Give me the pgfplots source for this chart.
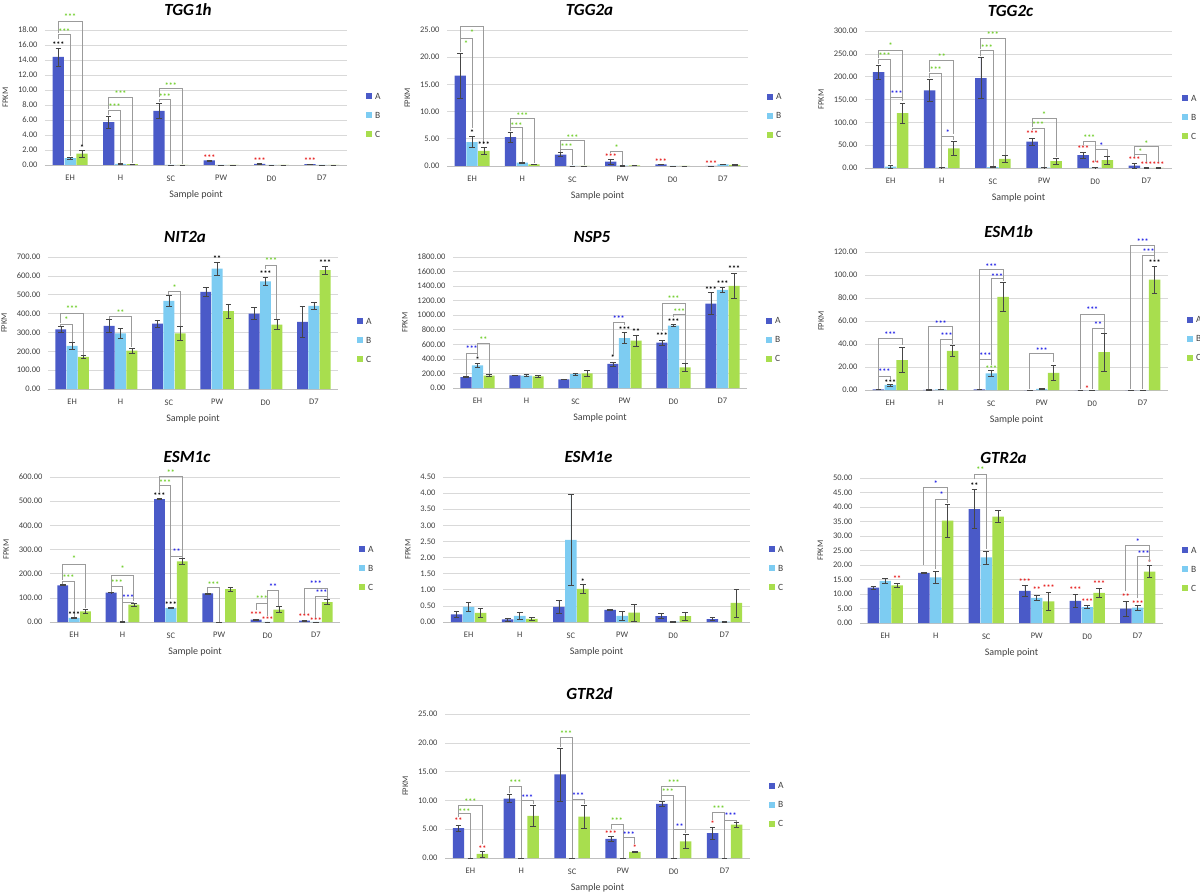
\documentclass[border=0pt]{standalone}
\usepackage{pgfplots}
\pgfplotsset{compat=1.18}
\usepackage{pgfplotstable}
\usepackage{fontspec}
\setmainfont{Carlito}
\usetikzlibrary{calc}

\definecolor{cA}{RGB}{74,90,200}
\definecolor{cB}{RGB}{125,204,242}
\definecolor{cC}{RGB}{168,222,78}
\definecolor{grn}{RGB}{110,205,40}
\definecolor{blu}{RGB}{30,30,230}
\definecolor{sred}{RGB}{230,25,25}
\definecolor{brkc}{RGB}{155,155,155}
\definecolor{gridc}{RGB}{217,217,217}
\definecolor{axl}{RGB}{191,191,191}
\definecolor{txt}{RGB}{64,64,64}
\definecolor{errc}{RGB}{70,70,70}

\tikzset{
  stn/.style={font=\fontsize{8}{8}\selectfont\bfseries, inner sep=0pt, anchor=base, yshift=-4pt},
  brkst/.style={draw=brkc, line width=0.8pt},
}
\newcommand{\st}[4]{\node[stn,text=#4] at (axis cs:#1,#2) {#3};}
\newcommand{\br}[8]{\draw[brkst] (axis cs:#1,#3) |- (axis cs:#2,#4) -- (axis cs:#2,#5);
  \node[stn,text=#8] at ($(axis cs:#1,#6)!0.5!(axis cs:#2,#6)$) {#7};}

\pgfplotsset{
  barax/.style={
    scale only axis, clip=false, anchor=south west,
    xmin=-0.5, xmax=5.5, ymin=0,
    xtick={0,1,2,3,4,5}, xticklabels={EH,H,SC,PW,D0,D7},
    axis x line*=bottom, axis y line*=left,
    y axis line style={draw=none},
    x axis line style={draw=axl, line width=0.8pt},
    major tick length=0pt,
    ymajorgrids, grid style={draw=gridc, line width=0.6pt},
    tick label style={font=\fontsize{8.5}{10}\selectfont, text=txt},
    scaled y ticks=false,
    yticklabel style={xshift=-4pt, /pgf/number format/fixed, /pgf/number format/fixed zerofill, /pgf/number format/precision=2, /pgf/number format/1000 sep={}, /pgf/number format/assume math mode=true},
    xticklabel style={yshift=-7pt},
    ylabel={FPKM}, ylabel style={font=\fontsize{8.5}{10}\selectfont, text=txt}, ylabel shift=3pt,
    xlabel={Sample point}, xlabel style={font=\fontsize{10}{12}\selectfont, text=txt}, xlabel shift=3pt,
    title style={font=\fontsize{17}{20}\selectfont\bfseries\itshape, at={(axis description cs:0.5,1)}, anchor=center, xshift=-8pt, yshift=14pt},
    legend style={at={(axis description cs:1,0.37)}, anchor=west, xshift=19pt, draw=none, fill=none, inner sep=0pt, font=\fontsize{9.5}{11}\selectfont, text=txt, row sep=13pt, nodes={inner sep=0pt, text height=6pt, text depth=0pt}},
    legend cell align=left,
  },
  ebar/.style={error bars/.cd, y dir=both, y explicit,
    error bar style={line width=0.6pt, draw=errc},
    error mark options={rotate=90, mark size=2.8pt, line width=0.6pt, draw=errc}},
}

\newcommand{\bars}[1]{%
  \addplot[ybar, bar width=0.225, bar shift=0pt, fill=cA, draw=none,
    legend image code/.code={\fill[cA] (0pt,-3pt) rectangle (6pt,3pt); \path (9pt,0pt);}, ebar]
    table[x expr=\thisrow{x}-0.235, y=A, y error=Ae] {#1};
  \addplot[ybar, bar width=0.225, bar shift=0pt, fill=cB, draw=none,
    legend image code/.code={\fill[cB] (0pt,-3pt) rectangle (6pt,3pt); \path (9pt,0pt);}, ebar]
    table[x=x, y=B, y error=Be] {#1};
  \addplot[ybar, bar width=0.225, bar shift=0pt, fill=cC, draw=none,
    legend image code/.code={\fill[cC] (0pt,-3pt) rectangle (6pt,3pt); \path (9pt,0pt);}, ebar]
    table[x expr=\thisrow{x}+0.235, y=C, y error=Ce] {#1};
  \legend{A,B,C}
}

\pgfplotstableread{
x A Ae B Be C Ce
0 14.4 1.2 0.9 0.15 1.5 0.5
1 5.7 0.8 0.15 0.05 0.1 0.05
2 7.2 1.0 0 0 0 0
3 0.6 0.05 0 0 0 0
4 0.15 0.05 0 0 0 0
5 0.1 0.03 0 0 0 0
}\tTa
\pgfplotstableread{
x A Ae B Be C Ce
0 16.6 4.1 4.4 1.0 2.8 0.6
1 5.3 0.9 0.6 0.1 0.3 0.05
2 2.1 0.4 0 0 0 0
3 0.8 0.5 0.05 0.02 0.1 0.03
4 0.3 0.05 0 0 0 0
5 0 0 0.3 0.05 0.2 0.05
}\tTb
\pgfplotstableread{
x A Ae B Be C Ce
0 210 15 3 3 120 22
1 170 24 1 0.5 43 16
2 197 45 2 1 20 7
3 58 8 1 0.5 15 7
4 28 7 1 0.5 17 8
5 5 5 0.5 0.3 0.5 0.3
}\tTc
\pgfplotstableread{
x A Ae B Be C Ce
0 316 15 229 17 171 8
1 335 33 295 26 203 15
2 347 18 467 30 295 35
3 515 22 638 33 413 37
4 400 33 571 20 342 26
5 356 82 441 18 630 23
}\tNit
\pgfplotstableread{
x A Ae B Be C Ce
0 151 10 311 30 170 12
1 174 5 170 12 160 8
2 119 5 192 12 200 40
3 330 30 687 75 650 80
4 623 30 857 15 284 60
5 1159 150 1347 35 1402 170
}\tNsp
\pgfplotstableread{
x A Ae B Be C Ce
0 0.5 0.2 4.4 0.8 26 11
1 0.2 0.1 0.6 0.3 34 4.5
2 0.5 0.2 14.5 3 81 12.5
3 0 0 1 0.5 15 6.5
4 0 0 0 0 33 16.5
5 0 0 0 0 96 12
}\tEb
\pgfplotstableread{
x A Ae B Be C Ce
0 152 2 16.6 2 44 10
1 122 1 1 2 72 5
2 508 2 58 3 251 13
3 118 2 0 0 136 7
4 9.7 2 0.3 0.2 51 12
5 5.5 2 0.3 0.2 82 10
}\tEc
\pgfplotstableread{
x A Ae B Be C Ce
0 0.24 0.08 0.47 0.13 0.28 0.14
1 0.08 0.05 0.19 0.12 0.10 0.05
2 0.47 0.19 2.55 1.4 1.03 0.15
3 0.38 0.02 0.19 0.14 0.29 0.26
4 0.18 0.08 0.01 0.01 0.18 0.12
5 0.09 0.05 0.01 0.01 0.59 0.44
}\tEe
\pgfplotstableread{
x A Ae B Be C Ce
0 12.2 0.5 14.5 0.8 13.0 0.7
1 17.3 0.3 15.7 2.0 35.3 5.8
2 39.3 6.8 22.6 2.2 36.7 2.0
3 11.1 1.8 8.7 1.0 7.5 3.0
4 7.6 2.3 5.5 0.6 10.4 1.4
5 5.0 2.6 5.3 0.8 17.7 2.1
}\tGa
\pgfplotstableread{
x A Ae B Be C Ce
0 5.2 0.5 0 0 0.7 0.5
1 10.3 0.7 0 0 7.3 1.8
2 14.5 4.6 0 0 7.2 2.0
3 3.3 0.4 0 0 1.05 0.1
4 9.4 0.4 0 0 2.9 1.3
5 4.3 1.1 0 0 5.8 0.4
}\tGd

\begin{document}
\begin{tikzpicture}
\path[use as bounding box] (0pt,0pt) rectangle (1200pt,-896pt);

% ---------------- TGG1h
\begin{axis}[barax, at={(45pt,-165pt)}, width=302pt, height=135pt, ymax=18, ytick={0,2,4,6,8,10,12,14,16,18}, title={TGG1h}]
\bars{\tTa}
\st{-0.235}{16.2}{***}{black}
\br{-0.235}{0}{16.8}{17.4}{1.2}{17.9}{***}{grn}
\br{-0.235}{0.235}{17.6}{19.2}{2.6}{19.9}{***}{grn}
\st{0.235}{2.4}{*}{black}
\br{0.765}{1}{6.7}{7.3}{0.3}{7.9}{***}{grn}
\br{0.765}{1.235}{7.4}{9.0}{0.3}{9.6}{***}{grn}
\br{1.765}{2}{8.4}{8.8}{0.1}{9.3}{***}{grn}
\br{1.765}{2.235}{9.0}{10.2}{0.1}{10.7}{***}{grn}
\st{2.765}{1.1}{***}{sred}
\st{3.765}{0.75}{***}{sred}
\st{4.765}{0.75}{***}{sred}
\end{axis}

% ---------------- TGG2a
\begin{axis}[barax, at={(447pt,-166pt)}, width=301pt, height=136pt, ymax=25, ytick={0,5,10,15,20,25}, title={TGG2a}]
\bars{\tTb}
\br{-0.235}{0}{21.0}{23.5}{7.0}{22.7}{*}{grn}
\br{-0.235}{0.235}{23.6}{25.7}{4.0}{24.8}{*}{grn}
\st{0}{6.3}{*}{black}
\st{0.235}{4.1}{***}{black}
\br{0.765}{1}{6.4}{7.1}{0.8}{7.7}{***}{grn}
\br{0.765}{1.235}{7.2}{8.7}{0.5}{9.5}{***}{grn}
\br{1.765}{2}{2.6}{3.1}{0.1}{3.7}{***}{grn}
\br{1.765}{2.235}{3.2}{4.7}{0.1}{5.5}{***}{grn}
\st{2.765}{1.9}{***}{sred}
\br{2.765}{3}{2.3}{2.6}{0.2}{3.5}{*}{grn}
\st{3.765}{1.05}{***}{sred}
\st{4.765}{0.6}{***}{sred}
\end{axis}

% ---------------- TGG2c
\begin{axis}[barax, at={(865pt,-168pt)}, width=307pt, height=137pt, ymax=300, ytick={0,50,100,150,200,250,300}, title={TGG2c}, legend style={xshift=-9pt}]
\bars{\tTc}
\br{-0.235}{0}{228}{237}{8}{248}{***}{grn}
\br{-0.235}{0.235}{240}{258}{146}{270}{*}{grn}
\br{0}{0.235}{8}{155}{146}{166}{***}{blu}
\br{0.765}{1}{197}{207}{3}{218}{***}{grn}
\br{0.765}{1.235}{210}{235}{75}{247}{**}{grn}
\br{1}{1.235}{3}{69}{61}{79}{*}{blu}
\br{1.765}{2}{245}{258}{4}{266}{***}{grn}
\br{1.765}{2.235}{260}{283}{28}{294}{***}{grn}
\st{2.765}{78}{***}{sred}
\br{2.765}{3}{84}{87}{3}{97}{***}{grn}
\br{2.765}{3.235}{90}{109}{24}{120}{*}{grn}
\st{3.765}{45}{***}{sred}
\br{3.765}{4}{50}{58}{14}{68}{***}{grn}
\st{4}{11}{**}{sred}
\br{4}{4.235}{16}{41}{26}{52}{*}{blu}
\st{4.765}{20}{***}{sred}
\st{5}{9}{***}{sred}
\st{5.235}{9}{***}{sred}
\br{4.765}{5}{24}{29}{13}{38}{*}{grn}
\br{4.765}{5.235}{31}{47}{13}{56}{*}{grn}
\end{axis}

% ---------------- NIT2a
\begin{axis}[barax, at={(48pt,-389pt)}, width=290pt, height=132pt, ymax=700, ytick={0,100,200,300,400,500,600,700}, title={NIT2a}]
\bars{\tNit}
\br{-0.235}{0}{335}{344}{250}{374}{*}{grn}
\br{-0.235}{0.235}{348}{400}{182}{430}{***}{grn}
\br{0.765}{1.235}{372}{383}{222}{413}{**}{grn}
\br{2}{2.235}{500}{518}{333}{545}{*}{grn}
\st{3}{695}{**}{black}
\st{4}{617}{***}{black}
\br{4}{4.235}{635}{656}{372}{686}{***}{grn}
\st{5.235}{677}{***}{black}
\end{axis}

% ---------------- NSP5
\begin{axis}[barax, at={(453pt,-388pt)}, width=294pt, height=131pt, ymax=1800, ytick={0,200,400,600,800,1000,1200,1400,1600,1800}, title={NSP5}]
\bars{\tNsp}
\st{0}{412}{*}{black}
\br{-0.235}{0}{170}{481}{440}{550}{***}{blu}
\br{0}{0.235}{481}{618}{195}{678}{**}{grn}
\st{2.765}{426}{*}{black}
\st{3}{824}{***}{black}
\st{3.235}{788}{**}{black}
\br{2.765}{3}{460}{907}{860}{971}{***}{blu}
\st{3.765}{733}{***}{black}
\st{4}{925}{***}{black}
\br{4}{4.235}{970}{1008}{350}{1063}{***}{grn}
\br{3.765}{4.235}{780}{1168}{1008}{1237}{***}{grn}
\st{4.765}{1374}{***}{black}
\st{5}{1443}{***}{black}
\st{5.235}{1649}{***}{black}
\end{axis}

% ---------------- ESM1b
\begin{axis}[barax, at={(865pt,-390pt)}, width=303pt, height=138pt, ymax=120, ytick={0,20,40,60,80,100,120}, title={ESM1b}]
\bars{\tEb}
\br{-0.235}{0.235}{1}{45}{39}{49}{***}{blu}
\br{-0.235}{0}{1}{12.2}{9.5}{16.6}{***}{blu}
\st{0}{7.8}{***}{black}
\br{0.765}{1.235}{0.5}{55}{40}{59}{***}{blu}
\br{1}{1.235}{1}{44}{40}{48}{***}{blu}
\br{1.765}{2.235}{1}{104.6}{95}{108}{***}{blu}
\br{2}{2.235}{24}{96.7}{95}{100}{***}{blu}
\br{1.765}{2}{1}{27}{22}{31}{***}{blu}
\st{2}{20}{***}{grn}
\br{2.765}{3.235}{0.5}{32}{24}{35.5}{***}{blu}
\br{3.765}{4.235}{0.5}{66}{54}{70.6}{***}{blu}
\br{4}{4.235}{0.5}{54}{50}{58}{**}{blu}
\st{3.9}{2.3}{*}{sred}
\br{4.765}{5.235}{0.5}{126}{117}{130}{***}{blu}
\br{5}{5.235}{0.5}{117}{114}{121}{***}{blu}
\st{5.235}{112}{***}{black}
\end{axis}

% ---------------- ESM1c
\begin{axis}[barax, at={(50pt,-622pt)}, width=290pt, height=145pt, ymax=600, ytick={0,100,200,300,400,500,600}, title={ESM1c}]
\bars{\tEc}
\br{-0.235}{0}{158}{170}{22}{190}{***}{grn}
\br{-0.235}{0.235}{175}{238}{58}{267}{*}{grn}
\st{0}{35}{***}{black}
\br{0.765}{1}{126}{148}{5}{166}{***}{grn}
\br{0.765}{1.235}{150}{194}{85}{226}{*}{grn}
\br{1}{1.235}{5}{83}{79}{104}{***}{blu}
\st{1.765}{527}{***}{black}
\br{1.765}{2}{540}{564}{95}{582}{***}{grn}
\br{1.765}{2.235}{566}{603}{270}{623}{**}{grn}
\br{2}{2.235}{95}{273}{266}{295}{**}{blu}
\st{2}{76}{***}{black}
\br{2.765}{3}{122}{145}{0}{159}{***}{grn}
\st{3.765}{37}{***}{sred}
\st{4}{14}{***}{sred}
\br{3.765}{4}{48}{79}{25}{101}{***}{grn}
\br{4}{4.235}{25}{131}{65}{152}{**}{blu}
\st{4.765}{25}{***}{sred}
\st{5}{10}{***}{sred}
\br{4.765}{5.235}{35}{138}{95}{163}{***}{blu}
\br{5}{5.235}{18}{108}{95}{125}{***}{blu}
\end{axis}

% ---------------- ESM1e
\begin{axis}[barax, at={(443pt,-622pt)}, width=307pt, height=145pt, ymax=4.5, ytick={0,0.5,1,1.5,2,2.5,3,3.5,4,4.5}, title={ESM1e}]
\bars{\tEe}
\st{2.235}{1.3}{*}{black}
\end{axis}

% ---------------- GTR2a
\begin{axis}[barax, at={(860pt,-623pt)}, width=303pt, height=145pt, ymax=50, ytick={0,5,10,15,20,25,30,35,40,45,50}, title={GTR2a}]
\bars{\tGa}
\st{0.235}{15.6}{**}{sred}
\br{0.765}{1.235}{20}{46.9}{42.7}{48.6}{*}{blu}
\br{1}{1.235}{18.5}{42.7}{41.5}{44.5}{*}{blu}
\st{1.765}{47.9}{**}{black}
\br{1.765}{2}{49.5}{51.2}{25.5}{53.2}{**}{grn}
\st{2.765}{14.8}{***}{sred}
\st{3}{11.9}{**}{sred}
\st{3.235}{12.5}{***}{sred}
\st{3.765}{11.9}{***}{sred}
\st{4}{7.6}{***}{sred}
\st{4.235}{13.9}{***}{sred}
\st{4.765}{9.6}{**}{sred}
\st{5}{6.9}{***}{sred}
\st{5.235}{21.1}{*}{sred}
\br{4.765}{5.235}{11}{26.6}{22.5}{28.4}{*}{blu}
\br{5}{5.235}{8.5}{22.9}{21}{24.4}{***}{blu}
\end{axis}

% ---------------- GTR2d
\begin{axis}[barax, at={(445pt,-858pt)}, width=305pt, height=144pt, ymax=25, ytick={0,5,10,15,20,25}, title={GTR2d}]
\bars{\tGd}
\st{-0.235}{6.6}{**}{sred}
\st{0.235}{1.85}{**}{sred}
\br{-0.235}{0}{7.2}{7.7}{0}{8.3}{***}{grn}
\br{-0.235}{0.235}{7.8}{9.1}{2.4}{9.9}{***}{grn}
\br{0.765}{1}{11.2}{12.4}{0}{13.2}{***}{grn}
\br{1}{1.235}{0}{10.0}{9.3}{10.7}{***}{blu}
\br{1.765}{2}{19.3}{20.9}{0}{21.8}{***}{grn}
\br{2}{2.235}{0}{10.2}{9.4}{11.1}{***}{blu}
\st{2.765}{4.5}{***}{sred}
\br{2.765}{3}{5.0}{5.9}{0}{6.75}{***}{grn}
\br{3}{3.235}{0}{3.5}{2.5}{4.2}{***}{blu}
\st{3.235}{2.0}{*}{sred}
\br{3.765}{4}{10.0}{10.8}{0}{11.7}{***}{grn}
\br{3.765}{4.235}{11.0}{12.5}{5.0}{13.3}{***}{grn}
\br{4}{4.235}{0}{4.9}{4.4}{5.7}{**}{blu}
\st{4.765}{6.2}{*}{sred}
\br{4.765}{5}{6.6}{7.9}{0}{8.8}{***}{grn}
\br{5}{5.235}{0}{6.6}{6.3}{7.5}{***}{blu}
\end{axis}

\end{tikzpicture}
\end{document}
